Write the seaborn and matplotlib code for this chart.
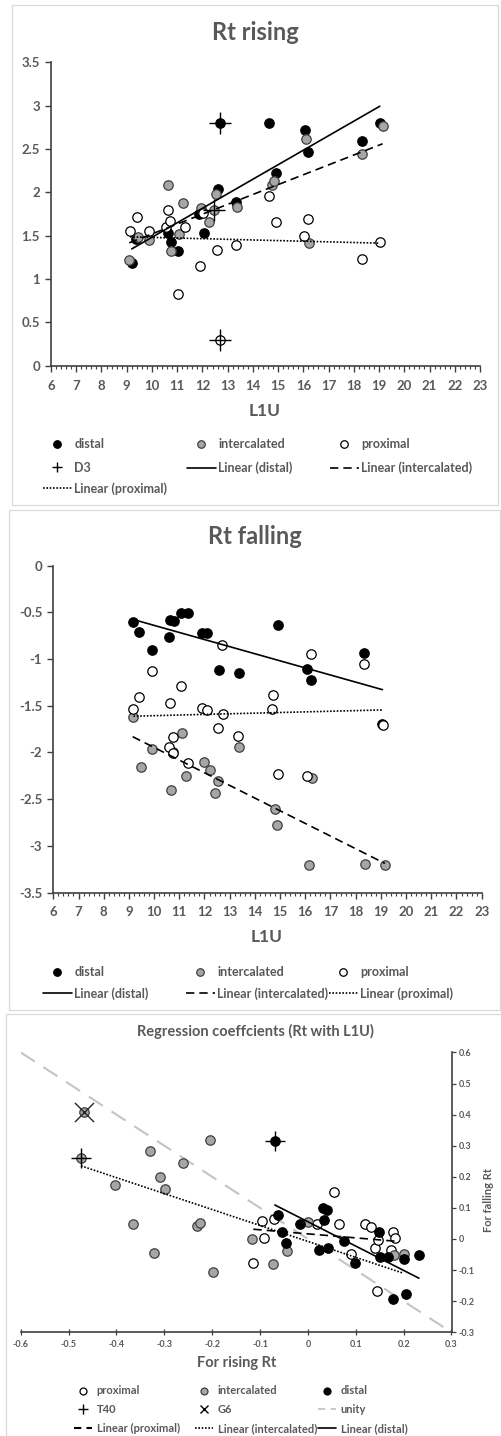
import matplotlib
matplotlib.use("Agg")
import matplotlib.pyplot as plt
from matplotlib.lines import Line2D
from matplotlib.patches import Rectangle
from matplotlib.ticker import MultipleLocator, FuncFormatter
import seaborn as sns

# ---------------- data ----------------
# Rt rising vs L1U
rise_distal_x = [9.2, 9.37, 10.65, 10.75, 11.05, 11.85, 12.05, 12.6, 12.7, 13.35, 14.65, 14.9, 16.06, 16.19, 18.33, 19.03]
rise_distal_y = [1.19, 1.46, 1.53, 1.43, 1.32, 1.75, 1.53, 2.04, 2.8, 1.89, 2.8, 2.22, 2.72, 2.46, 2.59, 2.8]
rise_inter_x = [9.1, 9.45, 9.9, 10.65, 10.75, 11.07, 11.25, 11.95, 12.25, 12.45, 12.55, 13.38, 14.75, 14.82, 16.1, 16.23, 18.33, 19.14]
rise_inter_y = [1.22, 1.49, 1.45, 2.09, 1.32, 1.52, 1.88, 1.82, 1.66, 1.8, 1.98, 1.83, 2.08, 2.13, 2.62, 1.42, 2.44, 2.77]
rise_prox_x = [9.13, 9.39, 9.87, 10.55, 10.7, 10.65, 11.04, 11.3, 11.9, 12.02, 12.56, 12.7, 13.33, 14.62, 14.9, 16.04, 16.19, 18.31, 19.03]
rise_prox_y = [1.55, 1.72, 1.55, 1.6, 1.67, 1.8, 0.83, 1.6, 1.15, 1.76, 1.33, 0.3, 1.39, 1.96, 1.66, 1.5, 1.69, 1.23, 1.43]
d3_x = [12.7, 12.45, 12.7]
d3_y = [2.8, 1.8, 0.3]

# Rt falling vs L1U
fall_distal_x = [9.18, 9.41, 9.9, 10.59, 10.65, 10.78, 11.06, 11.34, 11.89, 12.09, 12.59, 13.36, 14.93, 16.08, 16.21, 18.34, 19.06]
fall_distal_y = [-0.60, -0.71, -0.90, -0.76, -0.58, -0.59, -0.51, -0.51, -0.72, -0.72, -1.12, -1.15, -0.63, -1.11, -1.22, -0.94, -1.70]
fall_inter_x = [9.15, 9.48, 9.9, 10.67, 10.76, 11.1, 11.27, 11.98, 12.22, 12.4, 12.53, 13.38, 14.81, 14.87, 16.13, 16.26, 18.37, 19.16]
fall_inter_y = [-1.62, -2.16, -1.96, -2.40, -1.99, -1.79, -2.25, -2.10, -2.19, -2.43, -2.31, -1.94, -2.61, -2.78, -3.21, -2.27, -3.20, -3.21]
fall_prox_x = [9.18, 9.41, 9.9, 10.6, 10.63, 10.76, 10.76, 11.06, 11.34, 11.89, 12.09, 12.55, 12.71, 12.73, 13.34, 14.68, 14.7, 14.93, 16.08, 16.21, 18.33, 19.08]
fall_prox_y = [-1.54, -1.41, -1.13, -1.94, -1.47, -1.83, -2.01, -1.29, -2.11, -1.52, -1.55, -1.74, -0.85, -1.59, -1.82, -1.53, -1.39, -2.23, -2.25, -0.95, -1.05, -1.71]

# Regression coefficients: slope for rising Rt (x) vs slope for falling Rt (y)
coef_prox_x = [-0.114, -0.095, -0.091, -0.07, 0.018, 0.055, 0.064, 0.091, 0.12, 0.132, 0.141, 0.144, 0.146, 0.173, 0.178, 0.182]
coef_prox_y = [-0.076, 0.059, 0.002, 0.065, 0.048, 0.151, 0.048, -0.048, 0.048, 0.04, -0.03, -0.167, -0.003, -0.035, 0.022, 0.002]
coef_inter_x = [-0.474, -0.468, -0.403, -0.366, -0.33, -0.322, -0.308, -0.299, -0.261, -0.231, -0.226, -0.205, -0.198, -0.117, -0.072, -0.044, 0.0, 0.18, 0.2]
coef_inter_y = [0.259, 0.409, 0.173, 0.048, 0.284, -0.046, 0.2, 0.161, 0.243, 0.042, 0.05, 0.318, -0.106, 0.0, -0.08, -0.038, 0.056, -0.051, -0.048]
coef_distal_x = [-0.069, -0.063, -0.055, -0.045, -0.016, 0.023, 0.031, 0.039, 0.033, 0.041, 0.075, 0.098, 0.149, 0.151, 0.167, 0.178, 0.2, 0.205, 0.232]
coef_distal_y = [0.315, 0.078, 0.023, -0.013, 0.047, -0.034, 0.099, 0.092, 0.061, -0.03, -0.008, -0.076, 0.024, -0.059, -0.058, -0.193, -0.063, -0.176, -0.051]
t40_x = [-0.474, -0.069]
t40_y = [0.259, 0.315]
g6_x = [-0.468]
g6_y = [0.409]
unity_x = [-0.6, 0.3]

# ---------------- style ----------------
W, H = 502, 1436
sns.set_theme(style="white")
plt.rcParams["font.family"] = ["Lato", "DejaVu Sans"]
plt.rcParams["font.weight"] = "bold"
plt.rcParams["axes.unicode_minus"] = False

TXT = "#595959"
AXC = "#404040"
GFILL = "#a6a6a6"
GEDGE = "#404040"
DOT = (0, (1, 1))
DASH = (0, (5, 3))
S = 46

STYLE = {
    "distal": dict(color="black", edgecolor="black"),
    "intercalated": dict(color=GFILL, edgecolor=GEDGE),
    "proximal": dict(color="white", edgecolor="black"),
}

fig = plt.figure(figsize=(W / 100, H / 100), dpi=100)
fig.patch.set_facecolor("white")


def px_axes(x0, y0, x1, y1):
    return fig.add_axes([x0 / W, 1 - y1 / H, (x1 - x0) / W, (y1 - y0) / H])


def frame(x0, y0, x1, y1):
    fig.patches.append(Rectangle((x0 / W, 1 - y1 / H), (x1 - x0) / W, (y1 - y0) / H,
                                 transform=fig.transFigure, fill=False,
                                 ec="#d9d9d9", lw=0.9, zorder=0))


def ftext(x, y, s, size, **kw):
    fig.text(x / W, 1 - y / H, s, ha="center", va="center", fontsize=size,
             color=TXT, fontweight="bold", **kw)


def points(ax, x, y, group):
    sns.scatterplot(x=x, y=y, ax=ax, s=S, linewidth=0.9, zorder=3, legend=False,
                    **STYLE[group])


def trend(ax, x, y, ls):
    sns.regplot(x=x, y=y, ax=ax, scatter=False, ci=None, truncate=True,
                color="black", line_kws=dict(lw=1.2, ls=ls, zorder=4))


def entry(handle, label, x, y, fs, hl, tp):
    leg = fig.legend([handle], [label], loc="center left",
                     bbox_to_anchor=(x / W, 1 - y / H), frameon=False,
                     fontsize=fs, handlelength=hl, handletextpad=tp,
                     borderpad=0, borderaxespad=0)
    for t in leg.get_texts():
        t.set_color(TXT)
        t.set_fontweight("bold")


def mk(group, size=5.4):
    st = STYLE[group]
    return Line2D([], [], ls="none", marker="o", markersize=size,
                  markerfacecolor=st["color"], markeredgecolor=st["edgecolor"],
                  markeredgewidth=0.9)


def ln(ls, color="black", lw=1.2):
    return Line2D([], [], color=color, lw=lw, ls=ls)


fmt = FuncFormatter(lambda v, p: f"{round(v, 2):g}")


def l1u_axes(ax, ylo, yhi):
    ax.set_xlim(6, 23)
    ax.set_ylim(ylo, yhi)
    ax.xaxis.set_major_locator(MultipleLocator(1))
    ax.xaxis.set_minor_locator(MultipleLocator(0.2))
    ax.yaxis.set_major_locator(MultipleLocator(0.5))
    ax.xaxis.set_major_formatter(fmt)
    ax.yaxis.set_major_formatter(fmt)
    for side in ("top", "right"):
        ax.spines[side].set_visible(False)
    for side in ("left", "bottom"):
        ax.spines[side].set_color(AXC)
        ax.spines[side].set_linewidth(1.2)
    ax.tick_params(axis="x", which="major", direction="out", length=4, width=1,
                   color=AXC, pad=6, labelsize=9.5, labelcolor=TXT)
    ax.tick_params(axis="x", which="minor", direction="out", length=2.5, width=0.8,
                   color=AXC)
    ax.tick_params(axis="y", which="major", direction="out", length=4, width=1,
                   color=AXC, pad=4, labelsize=9.5, labelcolor=TXT)
    ax.tick_params(left=True, bottom=True)
    ax.tick_params(axis="x", which="minor", bottom=True)
    for lab in ax.get_xticklabels() + ax.get_yticklabels():
        lab.set_fontweight("bold")
    ax.set_xlabel("")
    ax.set_ylabel("")
    ax.set_facecolor("white")


# ---------------- panel 1: Rt rising ----------------
frame(12, 5, 498, 505)
ax1 = px_axes(51, 62.3, 480, 365.7)
points(ax1, rise_distal_x, rise_distal_y, "distal")
points(ax1, rise_inter_x, rise_inter_y, "intercalated")
points(ax1, rise_prox_x, rise_prox_y, "proximal")
trend(ax1, rise_distal_x, rise_distal_y, "-")
trend(ax1, rise_inter_x, rise_inter_y, DASH)
trend(ax1, rise_prox_x, rise_prox_y, DOT)
sns.scatterplot(x=d3_x, y=d3_y, ax=ax1, marker="+", s=270, color="black",
                linewidth=1.0, zorder=5, legend=False)
l1u_axes(ax1, 0, 3.5)
ftext(255, 32, "Rt rising", 17)
ftext(265, 411, "L1U", 12.5)

FS = 9
entry(mk("distal"), "distal", 43, 444.3, FS, 2.3, 0.2)
entry(mk("intercalated"), "intercalated", 187, 444.3, FS, 2.3, 0.2)
entry(mk("proximal"), "proximal", 330, 444.3, FS, 2.3, 0.2)
entry(Line2D([], [], ls="none", marker="+", color="black", markersize=7, markeredgewidth=1),
      "D3", 43, 467.7, FS, 2.3, 0.2)
entry(ln("-"), "Linear (distal)", 187, 467.7, FS, 2.3, 0.2)
entry(ln(DASH), "Linear (intercalated)", 330, 467.7, FS, 2.3, 0.2)
entry(ln(DOT), "Linear (proximal)", 43, 488.3, FS, 2.3, 0.2)

# ---------------- panel 2: Rt falling ----------------
frame(9, 510, 500, 1010)
ax2 = px_axes(53.3, 565.7, 481.7, 892.5)
points(ax2, fall_distal_x, fall_distal_y, "distal")
points(ax2, fall_inter_x, fall_inter_y, "intercalated")
points(ax2, fall_prox_x, fall_prox_y, "proximal")
trend(ax2, fall_distal_x, fall_distal_y, "-")
trend(ax2, fall_inter_x, fall_inter_y, DASH)
trend(ax2, fall_prox_x, fall_prox_y, DOT)
l1u_axes(ax2, -3.5, 0)
ftext(255, 537, "Rt falling", 17)
ftext(267, 937, "L1U", 12.5)

entry(mk("distal"), "distal", 43, 972.3, FS, 2.3, 0.2)
entry(mk("intercalated"), "intercalated", 186, 972.3, FS, 2.3, 0.2)
entry(mk("proximal"), "proximal", 329, 972.3, FS, 2.3, 0.2)
entry(ln("-"), "Linear (distal)", 43, 993.3, FS, 2.3, 0.2)
entry(ln(DASH), "Linear (intercalated)", 186, 993.3, FS, 2.3, 0.2)
entry(ln(DOT), "Linear (proximal)", 329, 993.3, FS, 2.3, 0.2)

# ---------------- panel 3: regression coefficients ----------------
frame(6, 1014, 506, 1442)
ax3 = px_axes(20.7, 1052.4, 451.5, 1332.3)
sns.lineplot(x=unity_x, y=[-v for v in unity_x], ax=ax3, color="#c4c4c4", lw=1.5,
             dashes=False, linestyle=(0, (8, 5)), zorder=2)
points(ax3, coef_prox_x, coef_prox_y, "proximal")
points(ax3, coef_inter_x, coef_inter_y, "intercalated")
points(ax3, coef_distal_x, coef_distal_y, "distal")
trend(ax3, coef_prox_x, coef_prox_y, DASH)
trend(ax3, coef_inter_x, coef_inter_y, DOT)
trend(ax3, coef_distal_x, coef_distal_y, "-")
sns.scatterplot(x=t40_x, y=t40_y, ax=ax3, marker="+", s=210, color="black",
                linewidth=1.0, zorder=5, legend=False)
sns.scatterplot(x=g6_x, y=g6_y, ax=ax3, marker="x", s=190, color="#262626",
                linewidth=1.0, zorder=5, legend=False)
ax3.set_xlim(-0.6, 0.3)
ax3.set_ylim(-0.3, 0.6)
ax3.xaxis.set_major_locator(MultipleLocator(0.1))
ax3.yaxis.set_major_locator(MultipleLocator(0.1))
ax3.xaxis.set_major_formatter(fmt)
ax3.yaxis.set_major_formatter(fmt)
ax3.yaxis.tick_right()
for side in ("top", "left"):
    ax3.spines[side].set_visible(False)
for side in ("right", "bottom"):
    ax3.spines[side].set_color(AXC)
    ax3.spines[side].set_linewidth(1.2)
ax3.tick_params(axis="x", direction="inout", length=5, width=0.9, color=AXC,
                pad=3, labelsize=6.5, labelcolor=TXT, bottom=True)
ax3.tick_params(axis="y", direction="out", length=3, width=0.9, color=AXC,
                pad=2, labelsize=6.5, labelcolor=TXT, right=True, left=False,
                labelright=True, labelleft=False)
for lab in ax3.get_xticklabels() + ax3.get_yticklabels():
    lab.set_fontweight("bold")
ax3.set_xlabel("")
ax3.set_ylabel("")
ftext(255, 1031, "Regression coeffcients (Rt with L1U)", 10.5)
ftext(237, 1363, "For rising Rt", 10.5)
ftext(489, 1200, "For falling Rt", 8, rotation=90)

FS3 = 8
entry(mk("proximal", 5.0), "proximal", 74, 1391, FS3, 1.65, 0.4)
entry(mk("intercalated", 5.0), "intercalated", 195, 1391, FS3, 1.65, 0.4)
entry(mk("distal", 5.0), "distal", 318, 1391, FS3, 1.65, 0.4)
entry(Line2D([], [], ls="none", marker="+", color="black", markersize=7, markeredgewidth=1),
      "T40", 74, 1409.5, FS3, 1.65, 0.4)
entry(Line2D([], [], ls="none", marker="x", color="black", markersize=6, markeredgewidth=1),
      "G6", 195, 1409.5, FS3, 1.65, 0.4)
entry(ln((0, (4, 3)), color="#c4c4c4", lw=1.3), "unity", 318, 1409.5, FS3, 1.65, 0.4)
entry(ln((0, (3.5, 2.5)), lw=1.5), "Linear (proximal)", 74, 1428.3, FS3, 1.65, 0.4)
entry(ln(DOT), "Linear (intercalated)", 195, 1428.3, FS3, 1.65, 0.4)
entry(ln("-"), "Linear (distal)", 318, 1428.3, FS3, 1.65, 0.4)

fig.savefig("out.png", dpi=100, facecolor="white")
